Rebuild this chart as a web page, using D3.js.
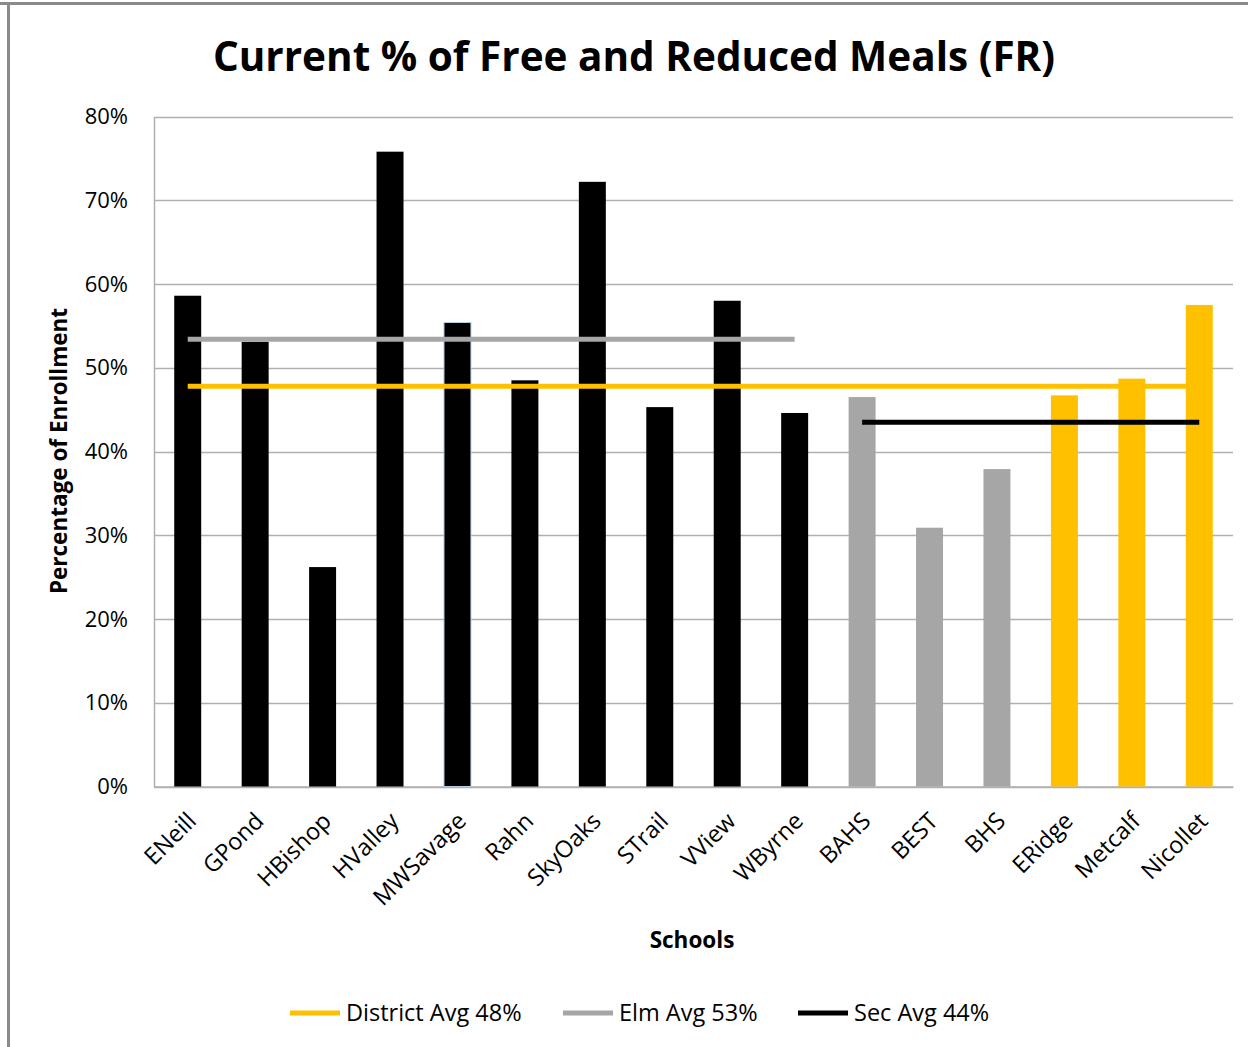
<!DOCTYPE html>
<html>
<head>
<meta charset="utf-8">
<script src="https://cdn.jsdelivr.net/npm/d3@7"></script>
<style>
  body { margin: 0; background: #fff; }
  text { font-family: "Open Sans", "Noto Sans", sans-serif; fill: #000; }
</style>
</head>
<body>
<div id="container"></div>
<script>
/* DATA */
const schools = ["ENeill", "GPond", "HBishop", "HValley", "MWSavage", "Rahn", "SkyOaks", "STrail",
  "VView", "WByrne", "BAHS", "BEST", "BHS", "ERidge", "Metcalf", "Nicollet"]
const frPct = [58.6, 53.1, 26.2, 75.8, 55.4, 48.5, 72.2, 45.3, 58.0, 44.6, 46.5, 30.9, 37.9, 46.7, 48.7, 57.5]
const groups = ["elm", "elm", "elm", "elm", "elm", "elm", "elm", "elm", "elm", "elm",
  "sec", "sec", "sec", "area", "area", "area"]
const yTicks = [0, 10, 20, 30, 40, 50, 60, 70, 80]

const avgNames = ["District Avg 48%", "Elm Avg 53%", "Sec Avg 44%"]
const districtAvg = 47.8
const elmAvg = 53.4
const secAvg = 43.5

/* CONSTANTS */
const width = 1248, height = 1047
const plot = { left: 154, right: 1233, top: 116.5, bottom: 786.5 }
const colors = { elm: "#000000", sec: "#a6a6a6", area: "#ffc000" }
const avgColors = ["#ffc000", "#a6a6a6", "#000000"]

const data = schools.map((s, i) => ({ school: s, value: frPct[i], group: groups[i] }))

// which schools each avg line spans
const avgLines = [
  { name: avgNames[0], value: districtAvg, from: "ENeill", to: "Nicollet" },
  { name: avgNames[1], value: elmAvg, from: "ENeill", to: "WByrne" },
  { name: avgNames[2], value: secAvg, from: "BAHS", to: "Nicollet" }
]

const svg = d3.select("#container")
  .append("svg")
  .attr("width", width)
  .attr("height", height)

/* SCALES */
const xScale = d3.scaleBand()
  .domain(schools)
  .range([plot.left, plot.right])
  .paddingInner(0.6)
  .paddingOuter(0.3)

const yScale = d3.scaleLinear()
  .domain([0, 80])
  .range([plot.bottom, plot.top])

// frame of the chart area
svg.append("line")
  .attr("x1", 0).attr("x2", width)
  .attr("y1", 3.5).attr("y2", 3.5)
  .attr("stroke", "#8a8a8a").attr("stroke-width", 3)
svg.append("line")
  .attr("x1", 8.5).attr("x2", 8.5)
  .attr("y1", 2).attr("y2", height)
  .attr("stroke", "#8a8a8a").attr("stroke-width", 3)

/* GRID + AXES */
svg.append("g")
  .selectAll("line")
  .data(yTicks)
  .join("line")
  .attr("x1", plot.left)
  .attr("x2", plot.right)
  .attr("y1", d => Math.round(yScale(d)) + 0.5)
  .attr("y2", d => Math.round(yScale(d)) + 0.5)
  .attr("stroke", "#b0b0b0")
  .attr("stroke-width", 1.5)

const yAxis = svg.append("g")
  .attr("transform", `translate(${plot.left},0)`)
  .call(d3.axisLeft(yScale).tickValues(yTicks).tickFormat(d => d + "%").tickSize(0).tickPadding(26))
yAxis.select(".domain").attr("stroke", "#b0b0b0").attr("stroke-width", 1.5)
yAxis.selectAll("text")
  .style("font-size", "22px")
  .attr("fill", "#222")

const xAxis = svg.append("g")
  .attr("transform", `translate(0,${plot.bottom})`)
  .call(d3.axisBottom(xScale).tickSize(0))
xAxis.select(".domain").attr("stroke", "#b0b0b0").attr("stroke-width", 1.5)
xAxis.selectAll("text")
  .style("font-size", "23.5px")
  .attr("text-anchor", "end")
  .attr("y", 0)
  .attr("dy", 0)
  .attr("transform", "translate(10,36) rotate(-45)")

/* BARS */
svg.selectAll(".bar")
  .data(data)
  .join("rect")
  .attr("class", "bar")
  .attr("x", d => xScale(d.school))
  .attr("y", d => yScale(d.value))
  .attr("width", xScale.bandwidth())
  .attr("height", d => yScale(0) - yScale(d.value))
  .attr("fill", d => colors[d.group])
  .attr("stroke", d => d.school === "MWSavage" ? "#b8cce4" : "none")
  .attr("stroke-width", 1)

/* AVERAGE LINES */
const center = s => xScale(s) + xScale.bandwidth() / 2
const line = d3.line().x(d => d[0]).y(d => d[1])

svg.selectAll(".avg")
  .data(avgLines)
  .join("path")
  .attr("class", "avg")
  .attr("d", d => line([[center(d.from), yScale(d.value)], [center(d.to), yScale(d.value)]]))
  .attr("stroke", (d, i) => avgColors[i])
  .attr("stroke-width", 5)
  .attr("fill", "none")

/* TITLES */
svg.append("text")
  .attr("x", 634)
  .attr("y", 71)
  .attr("text-anchor", "middle")
  .style("font-size", "40.5px")
  .style("font-weight", "bold")
  .text("Current % of Free and Reduced Meals (FR)")

svg.append("text")
  .attr("transform", "translate(67,451) rotate(-90)")
  .attr("text-anchor", "middle")
  .style("font-size", "22.5px")
  .style("font-weight", "bold")
  .text("Percentage of Enrollment")

svg.append("text")
  .attr("x", 692)
  .attr("y", 948)
  .attr("text-anchor", "middle")
  .style("font-size", "22.5px")
  .style("font-weight", "bold")
  .text("Schools")

/* LEGEND */
const legendX = [290, 563, 798]
const legend = svg.append("g")
  .selectAll("g")
  .data(avgLines)
  .join("g")
  .attr("transform", (d, i) => `translate(${legendX[i]},1013)`)
legend.append("line")
  .attr("x1", 0).attr("x2", 50)
  .attr("stroke", (d, i) => avgColors[i])
  .attr("stroke-width", 5)
legend.append("text")
  .attr("x", 56)
  .attr("dy", "0.35em")
  .style("font-size", "23.5px")
  .attr("fill", "#222")
  .text(d => d.name)
</script>
</body>
</html>
